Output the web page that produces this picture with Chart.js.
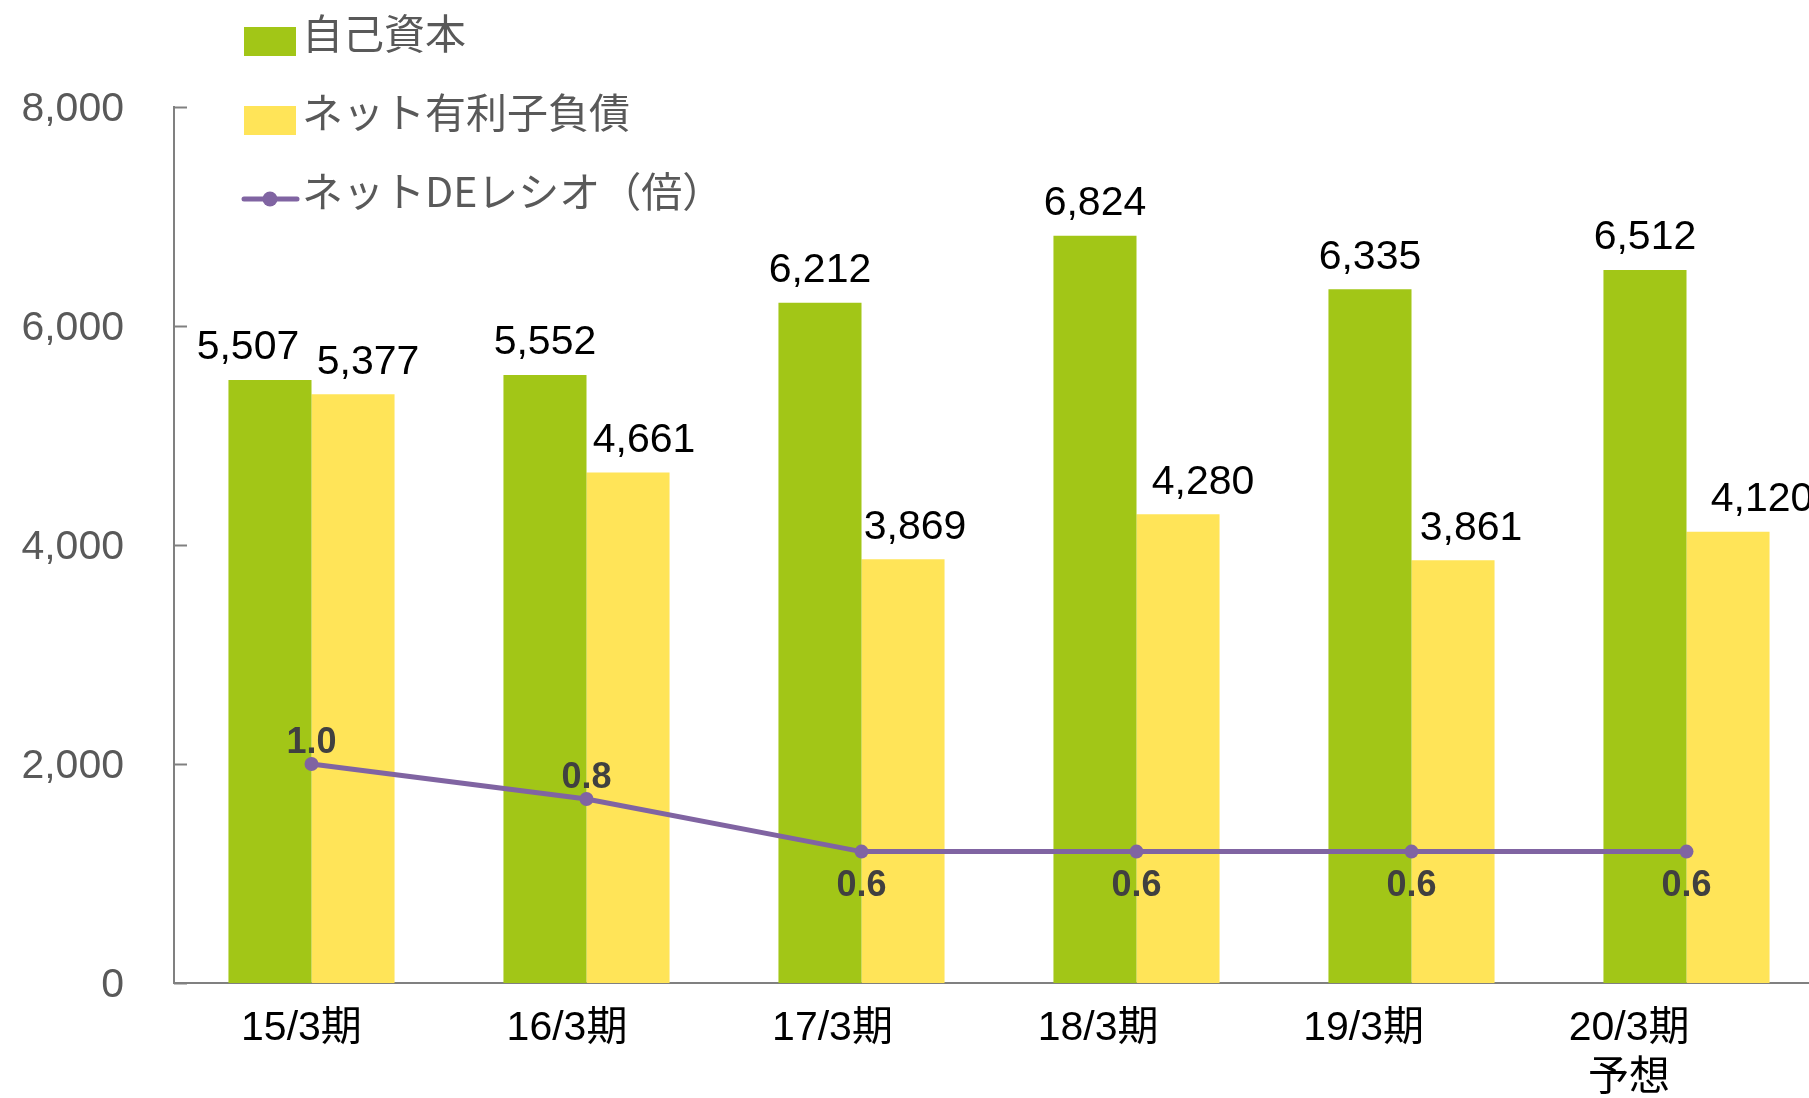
<!DOCTYPE html>
<html>
<head>
<meta charset="utf-8">
<script src="https://cdn.jsdelivr.net/npm/chart.js@4/dist/chart.umd.min.js"></script>
<style>
  html, body { margin: 0; padding: 0; overflow: hidden; background: #fff; }
</style>
</head>
<body>
<canvas id="deChart" width="1831" height="1098"></canvas>
<script>
// data
const periods = [['15/3期'], ['16/3期'], ['17/3期'], ['18/3期'], ['19/3期'], ['20/3期', '予想']];
const equity = [5507, 5552, 6212, 6824, 6335, 6512];
const netDebt = [5377, 4661, 3869, 4280, 3861, 4120];
const deRatio = [1.0, 0.84, 0.6, 0.6, 0.6, 0.6];
const yTicks = [0, 2000, 4000, 6000, 8000];
const seriesNames = ['自己資本', 'ネット有利子負債', 'ネットDEレシオ（倍）'];

const GREEN = '#A2C617';
const YELLOW = '#FFE458';
const PURPLE = '#8064A2';
const AXIS = '#808080';
const LATIN = '"Liberation Sans", Arial, "Noto Sans CJK JP", sans-serif';
const CJK = '"Noto Sans CJK JP", "Liberation Sans", sans-serif';

// value labels over bars and next to the ratio points
const valueLabels = {
  id: 'valueLabels',
  afterDatasetsDraw(chart, args, opts) {
    const ctx = chart.ctx;
    ctx.save();
    ctx.textAlign = 'center';
    ctx.textBaseline = 'middle';
    [0, 1].forEach(di => {
      const meta = chart.getDatasetMeta(di);
      const vals = chart.data.datasets[di].data;
      ctx.font = '41px ' + LATIN;
      ctx.fillStyle = '#000';
      meta.data.forEach((bar, i) => {
        const dx = opts.barShift[di][i];
        ctx.fillText(vals[i].toLocaleString('en-US'), bar.x + dx, bar.y - 32);
      });
    });
    const lineMeta = chart.getDatasetMeta(2);
    ctx.font = 'bold 36px ' + LATIN;
    ctx.fillStyle = '#404040';
    lineMeta.data.forEach((pt, i) => {
      const dy = i < 2 ? -21 : 34;
      ctx.fillText(deRatio[i].toFixed(1), pt.x, pt.y + dy);
    });
    ctx.restore();
  }
};

// short tick marks pointing into the plot, plus the legend block
const extras = {
  id: 'extras',
  afterDraw(chart) {
    const ctx = chart.ctx;
    const y = chart.scales.y;
    ctx.save();
    ctx.strokeStyle = AXIS;
    ctx.lineWidth = 2;
    y.ticks.forEach(t => {
      const py = Math.round(y.getPixelForValue(t.value)) + 0.5;
      ctx.beginPath();
      ctx.moveTo(y.right, py);
      ctx.lineTo(y.right + 13, py);
      ctx.stroke();
    });

    const ds = chart.data.datasets;
    const rows = [41.5, 120.5, 199];
    ctx.font = '41px ' + CJK;
    ctx.textBaseline = 'middle';
    ctx.textAlign = 'left';
    ds.forEach((d, i) => {
      const cy = rows[i];
      if (d.type === 'line') {
        ctx.strokeStyle = d.borderColor;
        ctx.lineWidth = 5;
        ctx.lineCap = 'round';
        ctx.beginPath();
        ctx.moveTo(244, cy);
        ctx.lineTo(297, cy);
        ctx.stroke();
        ctx.fillStyle = d.borderColor;
        ctx.beginPath();
        ctx.arc(270, cy, 7.5, 0, Math.PI * 2);
        ctx.fill();
      } else {
        ctx.fillStyle = d.backgroundColor;
        ctx.fillRect(244, cy - 14.5, 52, 29);
      }
      ctx.fillStyle = '#595959';
      ctx.fillText(d.label, 302, cy - 8);
    });
    ctx.restore();
  }
};

// the period labels sit on a slightly tighter spacing than the bar groups
const LABEL_MIN = -0.48;
const LABEL_MAX = 5.734;

new Chart(document.getElementById('deChart'), {
  type: 'bar',
  data: {
    labels: periods.map(p => p.join(' ')),
    datasets: [
      { label: seriesNames[0], data: equity, backgroundColor: GREEN, order: 1,
        categoryPercentage: 0.604, barPercentage: 1 },
      { label: seriesNames[1], data: netDebt, backgroundColor: YELLOW, order: 1,
        categoryPercentage: 0.604, barPercentage: 1 },
      { label: seriesNames[2], type: 'line', data: deRatio, yAxisID: 'y2', order: 0,
        borderColor: PURPLE, borderWidth: 5, backgroundColor: PURPLE,
        pointRadius: 7, pointBackgroundColor: PURPLE, pointBorderWidth: 0, tension: 0 }
    ]
  },
  options: {
    responsive: false,
    animation: false,
    layout: { padding: { top: 107, left: 0, right: 0, bottom: 0 } },
    plugins: {
      legend: { display: false },
      tooltip: { enabled: false },
      valueLabels: {
        barShift: [[-22, 0, 0, 0, 0, 0], [15, 16, 12, 25, 18, 34]]
      }
    },
    scales: {
      x: { display: false },
      xLabels: {
        type: 'linear',
        position: 'bottom',
        offset: false,
        bounds: 'data',
        min: LABEL_MIN,
        max: LABEL_MAX,
        afterBuildTicks: s => { s.ticks = periods.map((p, i) => ({ value: i })); },
        afterFit: s => { s.height = 115; },
        grid: { display: false, drawTicks: false },
        border: { display: true, color: AXIS, width: 2 },
        ticks: {
          autoSkip: false,
          maxRotation: 0,
          padding: 21,
          color: '#000',
          font: { family: LATIN, size: 41, lineHeight: 1.22 },
          callback: v => periods[v]
        }
      },
      y: {
        min: 0,
        max: 8000,
        afterBuildTicks: s => { s.ticks = yTicks.map(v => ({ value: v })); },
        afterFit: s => { s.width = 174; },
        grid: { display: false, drawTicks: false },
        border: { display: true, color: AXIS, width: 2 },
        ticks: {
          padding: 50,
          labelOffset: 3,
          color: '#595959',
          font: { family: LATIN, size: 41 },
          callback: v => v.toLocaleString('en-US')
        }
      },
      y2: { display: false, min: 0, max: 4 }
    }
  },
  plugins: [valueLabels, extras]
});
</script>
</body>
</html>
